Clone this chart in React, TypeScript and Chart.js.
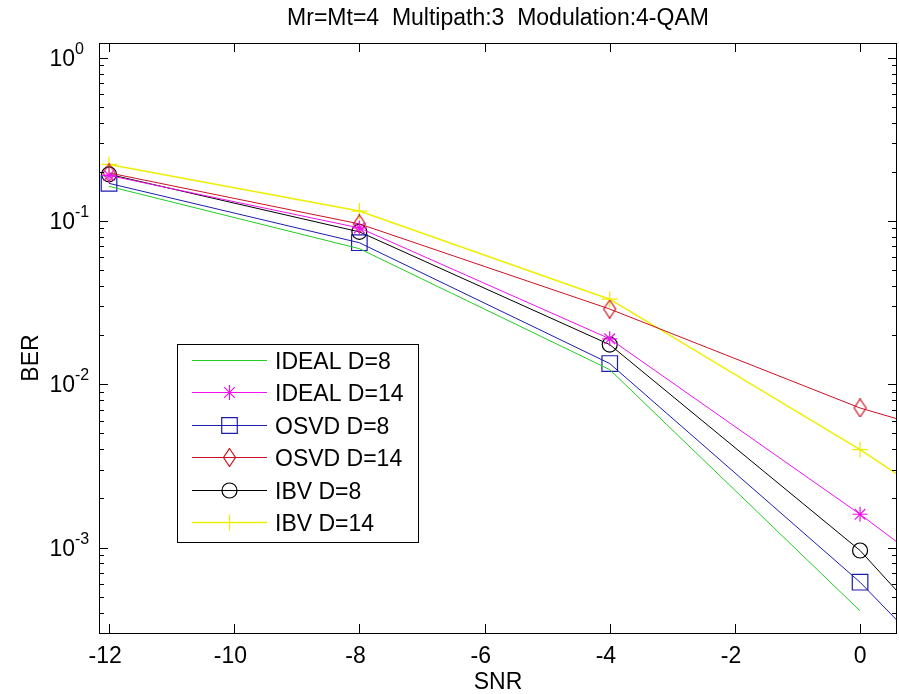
import React, { useEffect, useRef } from "react";
import { Chart, registerables } from "chart.js";
import { drawPoint } from "chart.js/helpers";

Chart.register(...registerables);

// ---------- data ----------
const SNR = [-12, -8, -4, 0, 4];
const IDEAL_D8 = [0.163, 0.0677, 0.0123, 0.00041, null];
const IDEAL_D14 = [0.19, 0.0907, 0.019, 0.0016, 0.000113];
const OSVD_D8 = [0.17, 0.0736, 0.0134, 0.000614, 0.000016];
const OSVD_D14 = [0.197, 0.096, 0.0289, 0.00716, 0.00255];
const IBV_D8 = [0.193, 0.0858, 0.0175, 0.00096, 0.00002];
const IBV_D14 = [0.222, 0.115, 0.0332, 0.00398, 0.00038];

const SERIES_NAMES = ["IDEAL D=8", "IDEAL D=14", "OSVD D=8", "OSVD D=14", "IBV D=8", "IBV D=14"];
const X_TICKS = [-12, -10, -8, -6, -4, -2, 0];
const Y_EXPONENTS = [-3, -2, -1, 0];
const TITLE = "Mr=Mt=4  Multipath:3  Modulation:4-QAM";
const X_LABEL = "SNR";
const Y_LABEL = "BER";
const X_MIN = -12.16;
const X_MAX = 0.59;
const Y_MIN = 3.27e-4;
const Y_MAX = 1.23;

// ---------- styles ----------
const COLORS = ["#22cc22", "#ee11ee", "#1c1cb0", "#cc1122", "#000000", "#eeee00"];
const WIDTHS = [1, 1, 1, 1, 1, 1.5];
const FONT = '"Liberation Sans", Arial, Helvetica, sans-serif';
const FS = 23;

function makeDiamond(color: string) {
  const c = document.createElement("canvas");
  c.width = 15;
  c.height = 19;
  const g = c.getContext("2d")!;
  g.strokeStyle = color;
  g.lineWidth = 1.2;
  g.beginPath();
  g.moveTo(7.5, 0.5);
  g.lineTo(13.5, 9.5);
  g.lineTo(7.5, 18.5);
  g.lineTo(1.5, 9.5);
  g.closePath();
  g.stroke();
  return c;
}

function drawNumber(ctx: CanvasRenderingContext2D, text: string, cx: number, y: number) {
  // digits centred on tick, minus hanging to the left (MATLAB style)
  const neg = text.startsWith("-");
  const digits = neg ? text.slice(1) : text;
  const dw = ctx.measureText(digits).width;
  const mw = neg ? ctx.measureText("-").width : 0;
  ctx.textAlign = "left";
  ctx.fillText(text, cx - dw / 2 - mw, y);
}

export default function App() {
  const ref = useRef<HTMLCanvasElement>(null);

  useEffect(() => {
    const canvas = ref.current!;
    const diamond = makeDiamond(COLORS[3]);
    const styles: any[] = [false, "star", "rect", diamond, "circle", "cross"];
    const radii = [0, 7.5, 11, 8, 7.5, 8];
    const series = [IDEAL_D8, IDEAL_D14, OSVD_D8, OSVD_D14, IBV_D8, IBV_D14];

    const datasets = series.map((d, i) => ({
      label: SERIES_NAMES[i],
      data: SNR.map((x, j) => ({ x, y: d[j] })),
      borderColor: COLORS[i],
      backgroundColor: "transparent",
      borderWidth: WIDTHS[i],
      pointStyle: styles[i],
      pointRadius: radii[i],
      pointBorderColor: COLORS[i],
      pointBackgroundColor: "transparent",
      pointBorderWidth: 1.2,
      tension: 0,
      spanGaps: false,
      clip: 0,
    }));

    const decor = {
      id: "decor",
      afterDatasetsDraw(chart: any) {
        const ctx: CanvasRenderingContext2D = chart.ctx;
        const { left, right, top, bottom } = chart.chartArea;
        const xs = chart.scales.x;
        const ys = chart.scales.y;
        ctx.save();
        ctx.strokeStyle = "#000";
        ctx.fillStyle = "#000";
        ctx.lineWidth = 1;
        // box
        ctx.strokeRect(left + 0.5, top + 0.5, right - left - 1, bottom - top);
        ctx.beginPath();
        // x ticks
        for (const v of X_TICKS) {
          const px = Math.round(xs.getPixelForValue(v)) + 0.5;
          ctx.moveTo(px, bottom);
          ctx.lineTo(px, bottom - 9);
          ctx.moveTo(px, top);
          ctx.lineTo(px, top + 9);
        }
        // y ticks (log, with minors)
        for (let e = -5; e <= 1; e++) {
          for (let m = 1; m <= 9; m++) {
            const v = m * Math.pow(10, e);
            if (v < Y_MIN || v > Y_MAX) continue;
            const py = Math.round(ys.getPixelForValue(v)) + 0.5;
            const len = m === 1 ? 9 : 5;
            ctx.moveTo(left, py);
            ctx.lineTo(left + len, py);
            ctx.moveTo(right, py);
            ctx.lineTo(right - len, py);
          }
        }
        ctx.stroke();

        // x tick labels
        ctx.font = `${FS}px ${FONT}`;
        ctx.textBaseline = "alphabetic";
        for (const v of X_TICKS) {
          drawNumber(ctx, String(v), xs.getPixelForValue(v), 663);
        }
        // y tick labels 10^k
        for (const e of Y_EXPONENTS) {
          const py = ys.getPixelForValue(Math.pow(10, e));
          ctx.font = `${FS}px ${FONT}`;
          ctx.textAlign = "right";
          ctx.fillText("10", 75, py + 8);
          ctx.font = `16px ${FONT}`;
          ctx.textAlign = "left";
          ctx.fillText(String(e), 75, py - 4);
        }
        // title
        ctx.font = `${FS}px ${FONT}`;
        ctx.textAlign = "center";
        ctx.fillText(TITLE, (left + right) / 2, 25);
        // x label
        ctx.fillText(X_LABEL, (left + right) / 2, 689);
        // y label
        ctx.save();
        ctx.translate(38, 358);
        ctx.rotate(-Math.PI / 2);
        ctx.textAlign = "center";
        ctx.fillText(Y_LABEL, 0, 0);
        ctx.restore();

        // legend
        const lx = 177, ly = 344, lw = 241, lh = 198;
        ctx.fillStyle = "#fff";
        ctx.fillRect(lx, ly, lw, lh);
        ctx.strokeStyle = "#000";
        ctx.lineWidth = 1;
        ctx.strokeRect(lx + 0.5, ly + 0.5, lw, lh);
        const rowY0 = 360, rowStep = 32.4;
        chart.data.datasets.forEach((ds: any, i: number) => {
          const y = Math.round(rowY0 + i * rowStep) + 0.5;
          ctx.strokeStyle = ds.borderColor;
          ctx.lineWidth = ds.borderWidth;
          ctx.beginPath();
          ctx.moveTo(192, y);
          ctx.lineTo(267, y);
          ctx.stroke();
          if (ds.pointStyle) {
            ctx.strokeStyle = ds.pointBorderColor;
            ctx.lineWidth = 1.2;
            ctx.fillStyle = "rgba(0,0,0,0)";
            drawPoint(ctx, { pointStyle: ds.pointStyle, radius: ds.pointRadius, borderWidth: 1.2, rotation: 0 } as any, 229.5, y);
          }
          ctx.fillStyle = "#000";
          ctx.font = `${FS}px ${FONT}`;
          ctx.textAlign = "left";
          ctx.textBaseline = "alphabetic";
          ctx.fillText(ds.label, 275, y + 8);
        });
        ctx.restore();
      },
    };

    const chart = new Chart(canvas, {
      type: "line",
      data: { datasets },
      options: {
        animation: false,
        responsive: false,
        maintainAspectRatio: false,
        devicePixelRatio: 1,
        events: [],
        layout: { autoPadding: false, padding: { top: 43, right: 2, left: 0, bottom: 0 } },
        plugins: {
          legend: { display: false },
          title: { display: false },
          tooltip: { enabled: false },
        },
        scales: {
          x: {
            type: "linear",
            min: X_MIN,
            max: X_MAX,
            grid: { display: false, drawTicks: false },
            border: { display: false },
            ticks: { display: false },
            afterFit: (s: any) => {
              s.height = 61;
            },
          },
          y: {
            type: "logarithmic",
            min: Y_MIN,
            max: Y_MAX,
            grid: { display: false, drawTicks: false },
            border: { display: false },
            ticks: { display: false },
            afterFit: (s: any) => {
              s.width = 99;
            },
          },
        },
      } as any,
      plugins: [decor as any],
    });

    return () => chart.destroy();
  }, []);

  return (
    <div style={{ position: "fixed", left: 0, top: 0, width: 899, height: 694, background: "#fff" }}>
      <canvas ref={ref} width={899} height={694} style={{ display: "block" }} />
    </div>
  );
}
